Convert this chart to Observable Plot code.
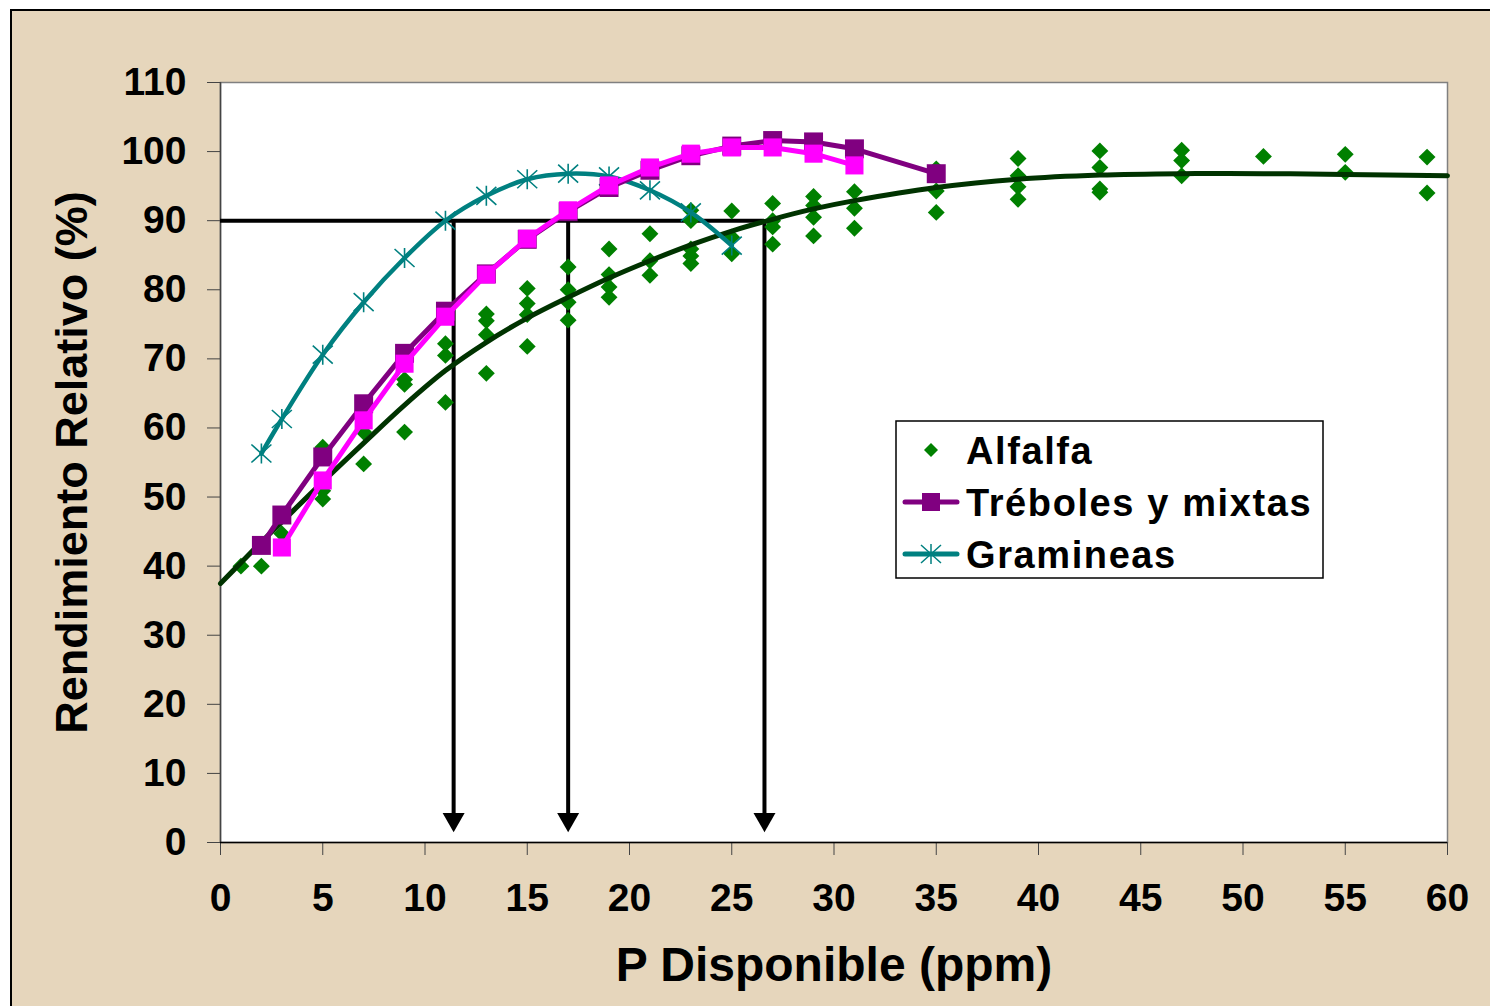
<!DOCTYPE html>
<html><head><meta charset="utf-8">
<script src="https://cdn.jsdelivr.net/npm/d3@7"></script>
<script src="https://cdn.jsdelivr.net/npm/@observablehq/plot@0.6"></script>
<style>
html,body{margin:0;padding:0;background:#fff;}
#wrap{position:relative;width:1490px;height:1006px;overflow:hidden;}
#bg{position:absolute;left:10px;top:9px;width:1500px;height:1010px;background:#E6D6BC;border:2px solid #000;}
#chart{position:absolute;left:0;top:0;}
</style></head><body>
<div id="wrap"><div id="bg"></div><div id="chart"></div></div>
<script>
// ---- data ----
const xTicks = [0, 5, 10, 15, 20, 25, 30, 35, 40, 45, 50, 55, 60];
const yTicks = [0, 10, 20, 30, 40, 50, 60, 70, 80, 90, 100, 110];

const alfalfaP = [1, 2, 3, 5, 5, 5, 7, 7, 9, 9, 9, 11, 11, 11, 13, 13, 13, 13, 15, 15, 15, 15,
  17, 17, 17, 17, 19, 19, 19, 19, 21, 21, 21, 23, 23, 23, 23, 23, 25, 25, 25, 27, 27, 27, 27,
  29, 29, 29, 29, 31, 31, 31, 35, 35, 35, 39, 39, 39, 39, 43, 43, 43, 43, 47, 47, 47, 51, 55, 55, 59, 59];
const alfalfaRR = [40.0, 40.0, 44.7, 57.2, 50.9, 49.7, 59.4, 54.8, 67.0, 66.3, 59.4, 72.2, 70.5, 63.7,
  76.5, 75.5, 73.5, 67.9, 80.2, 78.0, 76.4, 71.8, 83.3, 80.0, 78.2, 75.6, 85.9, 82.2, 80.4, 78.9,
  88.1, 84.2, 82.1, 91.5, 90.0, 85.9, 84.9, 83.8, 91.4, 87.6, 85.2, 92.5, 90.0, 89.1, 86.6,
  93.5, 92.2, 90.5, 87.8, 94.2, 91.8, 88.9, 97.5, 94.3, 91.2, 99.0, 96.5, 94.9, 93.1,
  100.1, 97.7, 94.6, 94.1, 100.2, 98.7, 96.5, 99.3, 99.6, 97.0, 99.2, 94.0];

const fitP  = [0, 1, 2, 3, 5, 7, 9, 11, 13, 15, 17, 19, 21, 23, 25, 27, 29, 31, 35, 39, 43, 47, 51, 55, 60];
const fitRR = [37.5, 40.5, 43.5, 46.4, 52.2, 57.8, 63.3, 68.3, 72.4, 75.9, 78.9, 81.7, 84.2, 86.5, 88.5,
  90.2, 91.7, 92.9, 94.8, 96.0, 96.6, 96.8, 96.8, 96.7, 96.5];

const trebolesP  = [2, 3, 5, 7, 9, 11, 13, 15, 17, 19, 21, 23, 25, 27, 29, 31, 35];
const trebolesRR = [43.0, 47.4, 55.8, 63.5, 70.8, 76.9, 82.3, 87.3, 91.3, 94.8, 97.3, 99.4, 100.8, 101.6, 101.4, 100.4, 96.8];

const mixtas2P  = [3, 5, 7, 9, 11, 13, 15, 17, 19, 21, 23, 25, 27, 29, 31];
const mixtas2RR = [42.7, 52.4, 61.1, 69.3, 76.1, 82.2, 87.4, 91.5, 95.1, 97.7, 99.7, 100.6, 100.6, 99.7, 98.0];

const gramP  = [2, 3, 5, 7, 9, 11, 13, 15, 17, 19, 21, 23, 25];
const gramRR = [56.3, 61.3, 70.6, 78.2, 84.6, 90.0, 93.6, 96.0, 96.8, 96.4, 94.4, 91.2, 86.4];

const criticalP = [11.4, 17, 26.6];
const criticalRR = 90;

const seriesNames = ["Alfalfa", "Tréboles y mixtas", "Gramineas"];
const xTitle = "P Disponible (ppm)";
const yTitle = "Rendimiento Relativo (%)";

// ---- tables ----
const zip = (xs, ys) => xs.map((x, i) => ({x, y: ys[i]}));
const alfalfa = zip(alfalfaP, alfalfaRR);
const fit = zip(fitP, fitRR);
const treboles = zip(trebolesP, trebolesRR);
const mixtas2 = zip(mixtas2P, mixtas2RR);
const gram = zip(gramP, gramRR);
const crit = criticalP.map(x => ({x, y1: criticalRR, y2: 4, tip: 1.5}));

// custom symbols
const starX = {draw(ctx, size) { const r = Math.sqrt(size / Math.PI);
  ctx.moveTo(-r, -r * 0.9); ctx.lineTo(r, r * 0.9);
  ctx.moveTo(-r, r * 0.9); ctx.lineTo(r, -r * 0.9);
  ctx.moveTo(0, -r); ctx.lineTo(0, r); }};
const downTri = {draw(ctx, size) { const r = Math.sqrt(size / Math.PI);
  ctx.moveTo(0, 0); ctx.lineTo(-r, -1.75 * r); ctx.lineTo(r, -1.75 * r); ctx.closePath(); }};

const FONT = "'Liberation Sans', Arial, sans-serif";
const TEAL = "#008080", PURPLE = "#800080", PINK = "#FF00FF", GREEN = "#008000", FIT = "#003300";

const chart = Plot.plot({
  width: 1490, height: 1006,
  marginLeft: 220, marginRight: 43, marginTop: 82, marginBottom: 164,
  style: {background: "transparent", fontFamily: FONT, fontWeight: "bold", color: "#000"},
  x: {domain: [0, 60]},
  y: {domain: [0, 110]},
  marks: [
    Plot.frame({fill: "white", stroke: "#808080", strokeWidth: 1.5}),
    Plot.axisX({ticks: xTicks, tickSize: 13, tickPadding: 28, fontSize: 39, fontWeight: "bold", label: null, stroke: "#444", fill: "#000"}),
    Plot.axisY({ticks: yTicks, tickSize: 13, tickPadding: 21, fontSize: 39, fontWeight: "bold", label: null, stroke: "#444", fill: "#000"}),
    Plot.ruleX([0], {stroke: "#444", strokeWidth: 1.5}),
    Plot.ruleY([0], {stroke: "#000", strokeWidth: 1.5}),
    // critical level lines
    Plot.ruleY([criticalRR], {x1: 0, x2: criticalP[criticalP.length - 1], stroke: "#000", strokeWidth: 4}),
    Plot.ruleX(crit, {x: "x", y1: "y1", y2: "y2", stroke: "#000", strokeWidth: 4}),
    Plot.dot(crit, {x: "x", y: "tip", symbol: downTri, r: 11, fill: "#000", stroke: "none"}),
    // alfalfa
    Plot.dot(alfalfa, {x: "x", y: "y", symbol: "diamond2", r: 7.6, fill: GREEN, stroke: "none"}),
    Plot.line(fit, {x: "x", y: "y", curve: "catmull-rom", stroke: FIT, strokeWidth: 5}),
    // gramineas
    Plot.line(gram, {x: "x", y: "y", curve: "catmull-rom", stroke: TEAL, strokeWidth: 4.5}),
    Plot.dot(gram, {x: "x", y: "y", symbol: starX, r: 10, fill: "none", stroke: TEAL, strokeWidth: 1.6}),
    // treboles
    Plot.line(treboles, {x: "x", y: "y", stroke: PURPLE, strokeWidth: 5}),
    Plot.dot(treboles, {x: "x", y: "y", symbol: "square", r: 10.7, fill: PURPLE, stroke: "none"}),
    Plot.line(mixtas2, {x: "x", y: "y", stroke: PINK, strokeWidth: 5}),
    Plot.dot(mixtas2, {x: "x", y: "y", symbol: "square", r: 10.2, fill: PINK, stroke: "none"}),
    // axis titles
    Plot.text([xTitle], {frameAnchor: "bottom", dy: 123, lineAnchor: "middle", textAnchor: "middle", fontSize: 48, fontWeight: "bold", fill: "#000", text: d => d}),
    Plot.text([yTitle], {frameAnchor: "left", dx: -148, rotate: -90, lineAnchor: "middle", textAnchor: "middle", fontSize: 45, fontWeight: "bold", fill: "#000", text: d => d})
  ]
});
document.getElementById("chart").appendChild(chart);

// ---- legend (inside plot) ----
const svg = d3.select(chart);
const lg = svg.append("g").attr("font-family", FONT).attr("font-weight", "bold").attr("text-anchor", "start");
lg.append("rect").attr("x", 896).attr("y", 421).attr("width", 427).attr("height", 157)
  .attr("fill", "white").attr("stroke", "#000").attr("stroke-width", 1.5);
const rows = [
  {name: seriesNames[0], y: 450, kind: "diamond"},
  {name: seriesNames[1], y: 502, kind: "square"},
  {name: seriesNames[2], y: 554, kind: "star"}
];
rows.forEach(r => {
  if (r.kind === "square") {
    lg.append("line").attr("x1", 905).attr("x2", 957).attr("y1", r.y).attr("y2", r.y).attr("stroke", PURPLE).attr("stroke-width", 5).attr("stroke-linecap", "round");
    lg.append("rect").attr("x", 922).attr("y", r.y - 9).attr("width", 18).attr("height", 18).attr("fill", PURPLE);
  } else if (r.kind === "star") {
    lg.append("line").attr("x1", 905).attr("x2", 957).attr("y1", r.y).attr("y2", r.y).attr("stroke", TEAL).attr("stroke-width", 5).attr("stroke-linecap", "round");
    lg.append("path").attr("d", `M${931-10},${r.y-9}L${931+10},${r.y+9}M${931-10},${r.y+9}L${931+10},${r.y-9}M931,${r.y-10}L931,${r.y+10}`)
      .attr("stroke", TEAL).attr("stroke-width", 1.5).attr("fill", "none");
  } else {
    lg.append("path").attr("d", `M931,${r.y-7}L${938},${r.y}L931,${r.y+7}L${924},${r.y}Z`).attr("fill", GREEN);
  }
  lg.append("text").attr("x", 966).attr("y", r.y).attr("dy", "0.36em").attr("font-size", 38)
    .attr("text-anchor", "start").attr("letter-spacing", "1.6px").attr("fill", "#000").text(r.name);
});
</script>
</body></html>
